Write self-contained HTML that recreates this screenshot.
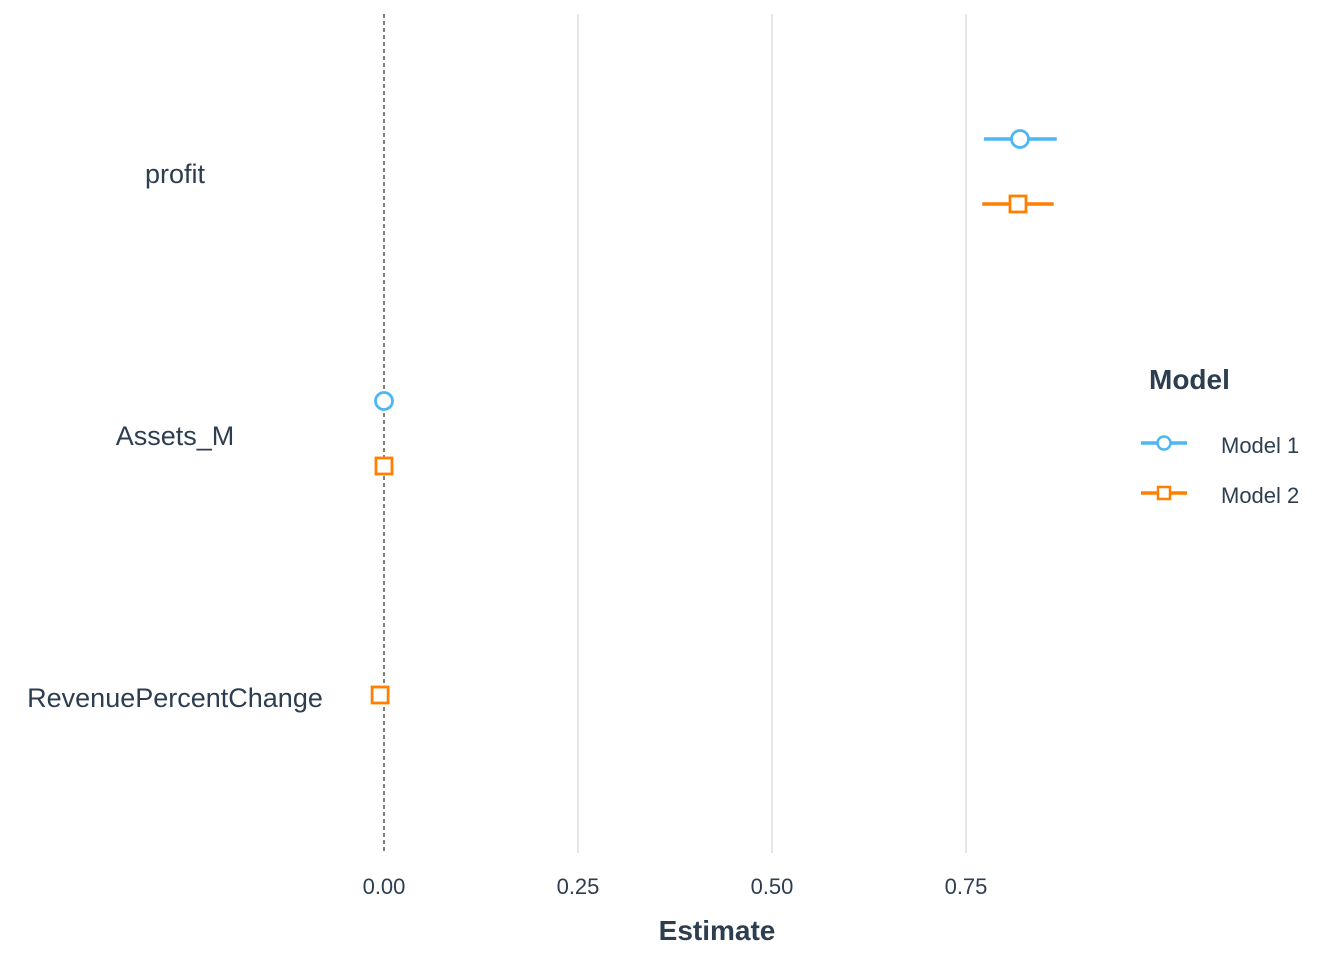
<!DOCTYPE html>
<html><head><meta charset="utf-8"><style>
body{margin:0;background:#fff;}
svg text{font-family:"Liberation Sans",Arial,sans-serif;fill:#2c3e50;}
</style></head><body>
<svg id="chart" width="1344" height="960">
<g id="grid"></g><g id="marks"></g><g id="labels"></g>
<text x="717" y="940" font-size="28" font-weight="bold" text-anchor="middle">Estimate</text>
<g>
<text x="1149" y="389" font-size="28" font-weight="bold">Model</text>
<g>
<line x1="1141" y1="443" x2="1187" y2="443" stroke="#4DB6F5" stroke-width="3.5"/>
<circle cx="1164" cy="443" r="6.5" fill="#fff" stroke="#4DB6F5" stroke-width="2.5"/>
<text x="1221" y="453" font-size="22">Model 1</text></g>
<g>
<line x1="1141" y1="493" x2="1187" y2="493" stroke="#FF7F00" stroke-width="3.5"/>
<rect x="1158" y="487" width="12" height="12" fill="#fff" stroke="#FF7F00" stroke-width="2.5"/>
<text x="1221" y="503" font-size="22">Model 2</text></g>
</g>
</svg>
<script>
const terms=["profit","Assets_M","RevenuePercentChange"];
const ticks=[0,0.25,0.5,0.75];
const tickLabels=["0.00","0.25","0.50","0.75"];
const m1Est=[0.8196,0.0,null];
const m1Lo=[0.773,0.0,null];
const m1Hi=[0.867,0.0,null];
const m2Est=[0.817,0.0,-0.005];
const m2Lo=[0.771,0.0,-0.005];
const m2Hi=[0.863,0.0,-0.005];
const NS="http://www.w3.org/2000/svg";
const x=v=>384+v*776;
const y=i=>174+i*262;
function mk(t,a,p){const e=document.createElementNS(NS,t);for(const k in a)e.setAttribute(k,a[k]);p.appendChild(e);return e;}
const grid=document.getElementById('grid'),marks=document.getElementById('marks'),labels=document.getElementById('labels');
ticks.forEach((t,i)=>{
 if(t!==0){const l=mk('line',{x1:x(t),x2:x(t),y1:14,y2:853,stroke:'#e5e5e5','stroke-width':2},grid);
 
 }
 const tx=mk('text',{x:x(t),y:894,'font-size':22,'text-anchor':'middle'},labels);tx.textContent=tickLabels[i];
 
 
});
const z=mk('line',{x1:x(0),x2:x(0),y1:14,y2:853,stroke:'#000','stroke-width':1,'stroke-dasharray':'4,3'},grid);


terms.forEach((t,i)=>{
 const tx=mk('text',{x:175,y:y(i)+9,'font-size':27,'text-anchor':'middle'},labels);tx.textContent=t;
 
 
 if(m1Est[i]!==null){const g=mk('g',{},marks);
  
  
  const yy=y(i)-35;
  mk('line',{x1:x(m1Lo[i]),x2:x(m1Hi[i]),y1:yy,y2:yy,stroke:'#4DB6F5','stroke-width':3.5},g);
  mk('circle',{cx:x(m1Est[i]),cy:yy,r:8.5,fill:'#fff',stroke:'#4DB6F5','stroke-width':2.8},g);}
 if(m2Est[i]!==null){const g=mk('g',{},marks);
  
  
  const yy=y(i)+30-(i===2?33:0);
  mk('line',{x1:x(m2Lo[i]),x2:x(m2Hi[i]),y1:yy,y2:yy,stroke:'#FF7F00','stroke-width':3.5},g);
  mk('rect',{x:x(m2Est[i])-8,y:yy-8,width:16,height:16,fill:'#fff',stroke:'#FF7F00','stroke-width':2.8},g);}
});
</script>
</body></html>
